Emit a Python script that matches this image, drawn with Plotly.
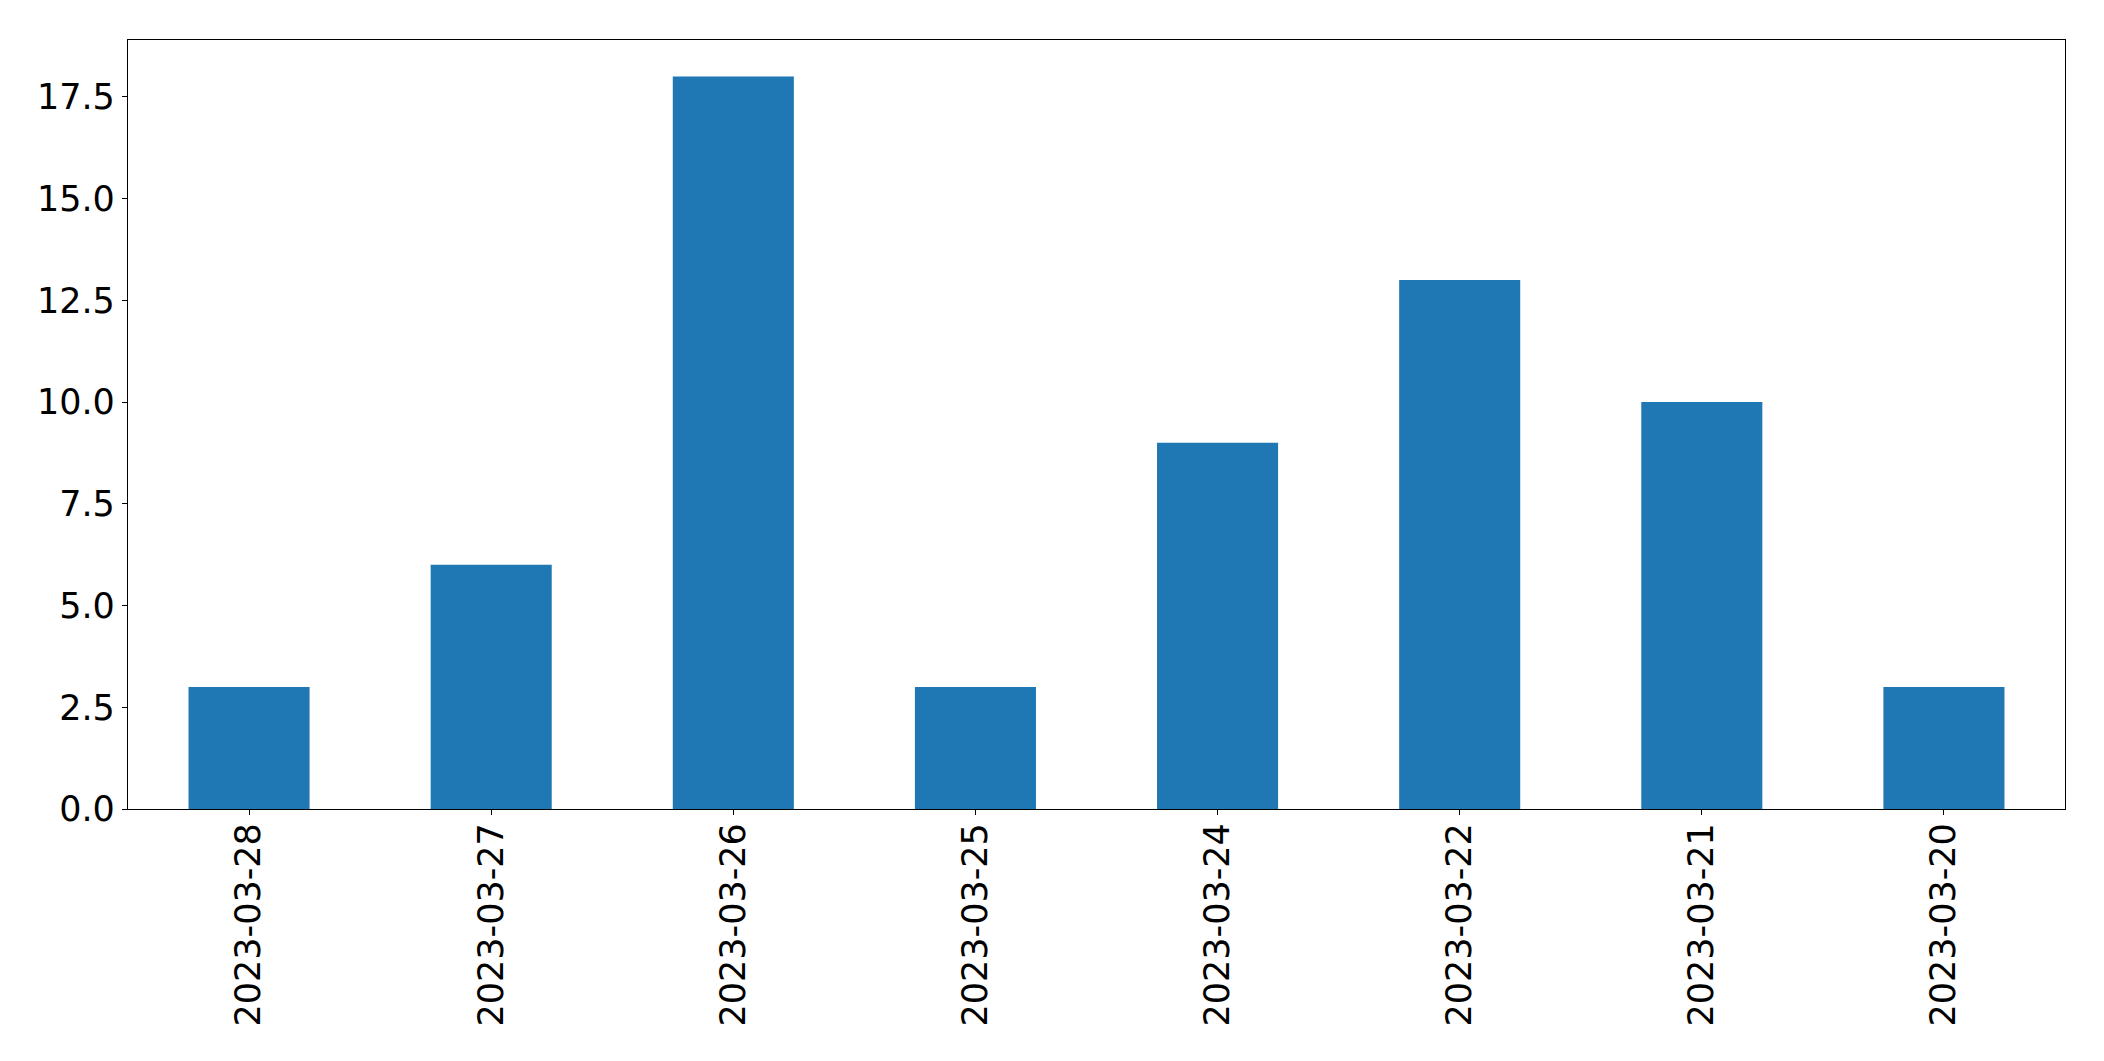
import plotly.graph_objects as go

dates = ["2023-03-28", "2023-03-27", "2023-03-26", "2023-03-25",
         "2023-03-24", "2023-03-22", "2023-03-21", "2023-03-20"]
counts = [3, 6, 18, 3, 9, 13, 10, 3]

# page body has an 8px margin; figure sized to fit inside it
W, H = 2088, 1045
L, T = 119.5, 31.5
PW, PH = 1937.5, 769.8
R = W - L - PW
B = H - T - PH

fig = go.Figure(go.Bar(x=dates, y=counts, width=0.5, marker_color="#1f77b4",
                       marker_line_width=0))

font = dict(family="DejaVu Sans", size=35, color="black")
fig.update_layout(
    width=W, height=H,
    margin=dict(l=L, r=R, t=T, b=B, pad=0),
    plot_bgcolor="white", paper_bgcolor="white",
    showlegend=False,
    font=font,
)
fig.update_xaxes(type="category", range=[-0.5, 7.5], showline=True, mirror=True,
                 linecolor="black", linewidth=1.3, ticks="outside", ticklen=5,
                 tickwidth=1.3, tickcolor="black", tickangle=-90, showgrid=False,
                 tickfont=font, zeroline=False, ticklabelstandoff=-6)
fig.update_yaxes(range=[0, 18.9], dtick=2.5, tick0=0, tickformat=".1f",
                 showline=True, mirror=True, linecolor="black", linewidth=1.3,
                 ticks="outside", ticklen=5, tickwidth=1.3, tickcolor="black",
                 showgrid=False, zeroline=False, tickfont=font)

fig.write_html("out.html")
